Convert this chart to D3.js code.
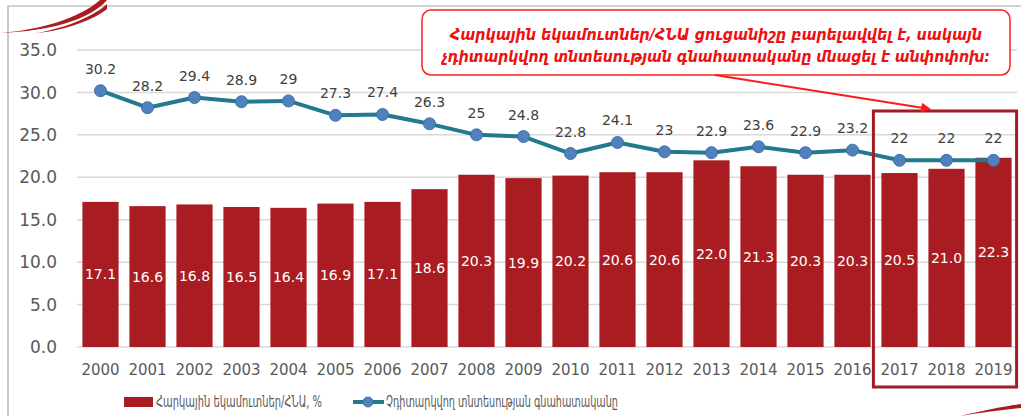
<!DOCTYPE html>
<html>
<head>
<meta charset="utf-8">
<script src="https://cdn.jsdelivr.net/npm/d3@7/dist/d3.min.js"></script>
<style>
  html, body { margin: 0; padding: 0; background: #fff; }
  svg { display: block; font-family: "DejaVu Sans", sans-serif; }
  .arm { font-family: "DejaVu Sans Condensed", "DejaVu Sans", sans-serif; }
</style>
</head>
<body>
<svg id="chart" width="1021" height="416"></svg>
<script>
// data
const years = ['2000','2001','2002','2003','2004','2005','2006','2007','2008','2009',
               '2010','2011','2012','2013','2014','2015','2016','2017','2018','2019'];
const taxRevenue = [17.1,16.6,16.8,16.5,16.4,16.9,17.1,18.6,20.3,19.9,
                    20.2,20.6,20.6,22.0,21.3,20.3,20.3,20.5,21.0,22.3];
const shadowIndex = [30.2,28.2,29.4,28.9,29,27.3,27.4,26.3,25,24.8,
                     22.8,24.1,23,22.9,23.6,22.9,23.2,22,22,22];
const yTicks = [0,5,10,15,20,25,30,35];
const highlightYears = ['2017','2018','2019'];
const barName = 'Հարկային եկամուտներ/ՀՆԱ, %';
const lineName = 'Չդիտարկվող տնտեսության գնահատականը';
const noteLines = ['Հարկային եկամուտներ/ՀՆԱ ցուցանիշը բարելավվել է, սակայն',
                   'չդիտարկվող տնտեսության գնահատականը մնացել է անփոփոխ:'];

const W = 1021, H = 416;
const m = { left: 77, right: 4, top: 50, bottom: 69 };
const svg = d3.select('#chart');

const x = d3.scaleBand().domain(years).range([m.left, W - m.right]).paddingInner(0.23).paddingOuter(0.115);
const y = d3.scaleLinear().domain([0, 35]).range([H - m.bottom, m.top]);

// frame lines + decoration
svg.append('path').attr('d', `M8,${H} V6 H${W}`).attr('fill','none').attr('stroke','#a6a6a6').attr('stroke-width',1.2);
svg.append('path').attr('d','M0,33 C40,30 80,18 100,0 L107,0 C90,20 50,31 0,33 Z').attr('fill','#a91d22');
svg.append('path').attr('d','M30,34 C60,30 92,18 107,4 L107,9 C90,22 62,31 30,34 Z').attr('fill','#a91d22');
svg.append('path').attr('d','M960,416 C985,410 1005,406 1021,404 L1021,408 C1000,410 980,413 960,416 Z').attr('fill','#a91d22');

// grid
svg.append('g').selectAll('line').data(yTicks).join('line')
  .attr('x1', m.left).attr('x2', W - m.right)
  .attr('y1', d => y(d)).attr('y2', d => y(d))
  .attr('stroke', '#d9d9d9').attr('stroke-width', 1.5);

// y axis labels
svg.append('g').selectAll('text').data(yTicks).join('text')
  .attr('x', 57).attr('y', d => y(d)).attr('dy', '0.36em')
  .attr('text-anchor', 'end').attr('fill', '#595959').attr('font-size', 17)
  .text(d => d3.format('.1f')(d));

// x axis labels
svg.append('g').selectAll('text').data(years).join('text')
  .attr('x', d => x(d) + x.bandwidth() / 2).attr('y', 370).attr('dy', '0.36em')
  .attr('text-anchor', 'middle').attr('fill', '#595959').attr('font-size', 15)
  .text(d => d);

// bars
svg.append('g').selectAll('rect').data(years).join('rect')
  .attr('x', d => x(d)).attr('width', x.bandwidth())
  .attr('y', (d, i) => y(taxRevenue[i])).attr('height', (d, i) => y(0) - y(taxRevenue[i]))
  .attr('fill', '#a91d22');

svg.append('g').selectAll('text').data(years).join('text')
  .attr('x', d => x(d) + x.bandwidth() / 2)
  .attr('y', (d, i) => (y(taxRevenue[i]) + y(0)) / 2).attr('dy', '0.36em')
  .attr('text-anchor', 'middle').attr('fill', '#fff').attr('font-size', 14)
  .text((d, i) => taxRevenue[i].toFixed(1));

// line
const line = d3.line().x((d, i) => x(years[i]) + x.bandwidth() / 2).y(d => y(d));
svg.append('path').datum(shadowIndex).attr('d', line)
  .attr('fill', 'none').attr('stroke', '#237a8f').attr('stroke-width', 4).attr('stroke-linejoin', 'round');

svg.append('g').selectAll('circle').data(shadowIndex).join('circle')
  .attr('cx', (d, i) => x(years[i]) + x.bandwidth() / 2).attr('cy', d => y(d)).attr('r', 6)
  .attr('fill', '#4f81bd').attr('stroke', '#3e70aa').attr('stroke-width', 1);

svg.append('g').selectAll('text').data(shadowIndex).join('text')
  .attr('x', (d, i) => x(years[i]) + x.bandwidth() / 2).attr('y', d => y(d) - 17)
  .attr('text-anchor', 'middle').attr('fill', '#404040').attr('font-size', 14)
  .text(d => String(d));

// highlight box around last years
const hx0 = x(highlightYears[0]) - 8;
const hx1 = x(highlightYears[highlightYears.length - 1]) + x.bandwidth() + 5;
svg.append('rect').attr('x', hx0).attr('y', 111).attr('width', hx1 - hx0).attr('height', 276)
  .attr('fill', 'none').attr('stroke', '#a01c24').attr('stroke-width', 3);

// annotation callout
svg.append('rect').attr('x', 422).attr('y', 10).attr('width', 588).attr('height', 65).attr('rx', 9)
  .attr('fill', '#fff').attr('stroke', '#ff2020').attr('stroke-width', 1.5);
svg.append('g').selectAll('text').data(noteLines).join('text')
  .attr('class', 'arm')
  .attr('x', 716).attr('y', (d, i) => 34 + i * 22).attr('dy', '0.36em')
  .attr('text-anchor', 'middle').attr('fill', '#ee1111')
  .attr('font-size', 16).attr('font-style', 'italic').attr('font-weight', 'bold')
  .attr('textLength', (d, i) => i === 0 ? 532 : 548).attr('lengthAdjust', 'spacingAndGlyphs')
  .text(d => d);

svg.append('defs').append('marker').attr('id', 'arr')
  .attr('viewBox', '0 0 10 10').attr('refX', 9).attr('refY', 5)
  .attr('markerWidth', 5).attr('markerHeight', 5).attr('orient', 'auto')
  .append('path').attr('d', 'M0,0 L10,5 L0,10 Z').attr('fill', '#ff1a1a');
svg.append('line').attr('x1', 715).attr('y1', 75).attr('x2', 930).attr('y2', 109)
  .attr('stroke', '#ff1a1a').attr('stroke-width', 2).attr('marker-end', 'url(#arr)');

// legend
const lg = svg.append('g').attr('font-size', 15).attr('fill', '#595959').attr('class', 'arm');
lg.append('rect').attr('x', 124).attr('y', 397).attr('width', 29).attr('height', 10).attr('fill', '#a91d22');
lg.append('text').attr('x', 156).attr('y', 402).attr('dy', '0.36em').attr('fill', '#595959')
  .attr('textLength', 166).attr('lengthAdjust', 'spacingAndGlyphs').text(barName);
lg.append('line').attr('x1', 353).attr('x2', 384).attr('y1', 402).attr('y2', 402)
  .attr('stroke', '#237a8f').attr('stroke-width', 4);
lg.append('circle').attr('cx', 368).attr('cy', 402).attr('r', 5).attr('fill', '#4f81bd').attr('stroke', '#3e70aa');
lg.append('text').attr('x', 386).attr('y', 402).attr('dy', '0.36em').attr('fill', '#595959')
  .attr('textLength', 232).attr('lengthAdjust', 'spacingAndGlyphs').text(lineName);
</script>
</body>
</html>
